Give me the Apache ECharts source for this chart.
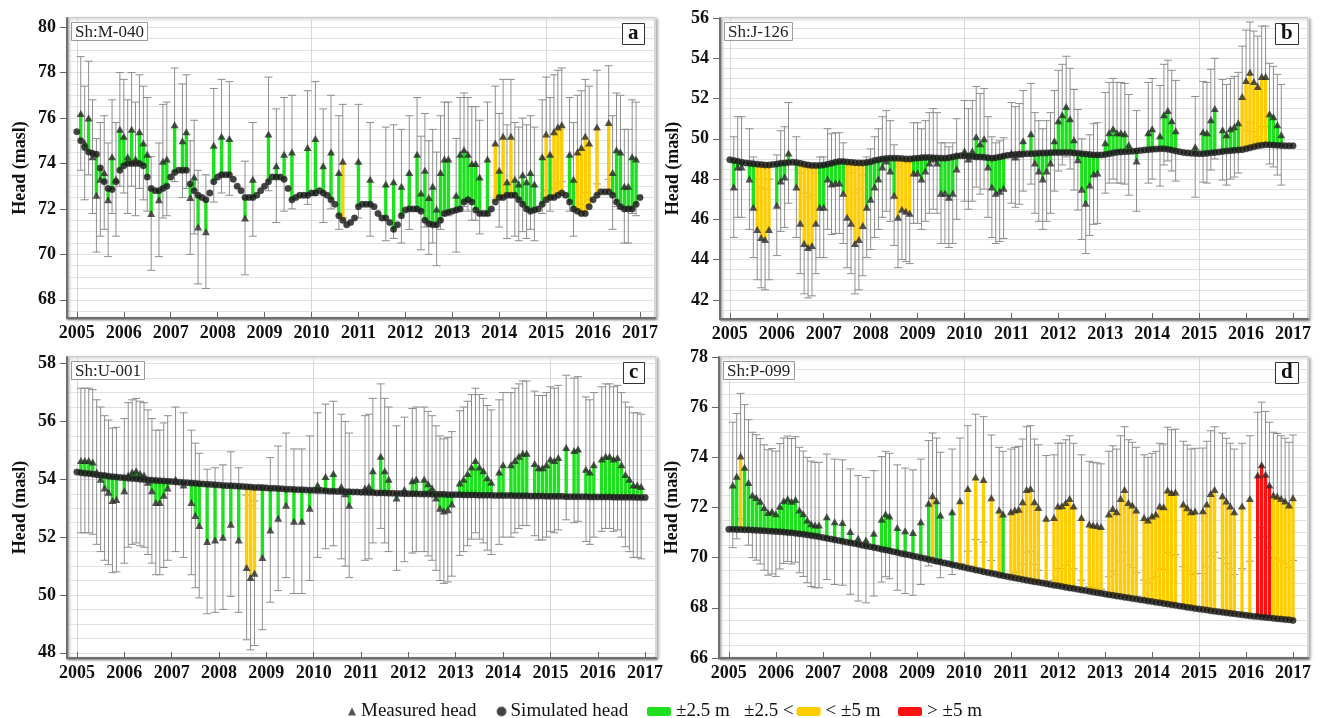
<!DOCTYPE html>
<html>
<head>
<meta charset="utf-8">
<script src="https://cdn.jsdelivr.net/npm/echarts@6/dist/echarts.min.js"></script>
<style>
  html, body { margin: 0; padding: 0; background: #fff; }
  #chart { width: 1319px; height: 718px; }
</style>
</head>
<body>
<div id="chart"></div>
<script>
// tolerance of the calibration target (m), also used for the error bars
var tolerance = 2.5;

var wellNames = ["Sh:M-040", "Sh:J-126", "Sh:U-001", "Sh:P-099"];
var panelLetters = ["a", "b", "c", "d"];
var yearTicks = [2005, 2006, 2007, 2008, 2009, 2010, 2011, 2012, 2013, 2014, 2015, 2016, 2017];
var headTicksA = [68, 70, 72, 74, 76, 78, 80];
var headTicksB = [42, 44, 46, 48, 50, 52, 54, 56];
var headTicksC = [48, 50, 52, 54, 56, 58];
var headTicksD = [66, 68, 70, 72, 74, 76, 78];

// simulated head, one value per month from Jan 2005 to Jan 2017
var simA = [
  75.4, 75.0, 74.7, 74.5, 74.45, 74.4, 73.8, 73.2, 72.9, 72.85, 73.2, 73.7,
  73.9, 74.0, 74.0, 74.0, 74.0, 73.9, 73.4, 72.9, 72.8, 72.8, 72.9, 73.0,
  73.4, 73.6, 73.7, 73.7, 73.7, 73.1, 72.8, 72.6, 72.5, 72.4, 72.7, 73.2,
  73.4, 73.5, 73.5, 73.5, 73.3, 73.0, 72.8, 72.5, 72.5, 72.5, 72.6, 72.8,
  73.0, 73.2, 73.4, 73.4, 73.4, 73.3, 72.9, 72.4, 72.5, 72.6, 72.6, 72.6,
  72.7, 72.7, 72.8, 72.7, 72.6, 72.4, 72.2, 71.7, 71.5, 71.3, 71.4, 71.6,
  72.1, 72.2, 72.2, 72.2, 72.1, 71.8, 71.6, 71.6, 71.4, 71.1, 71.3, 71.7,
  71.95, 72.0, 72.0, 72.0, 71.9, 71.5, 71.35, 71.3, 71.3, 71.5, 71.8, 71.85,
  71.9, 71.95, 72.0, 72.3, 72.4, 72.3, 71.95, 71.8, 71.8, 71.8, 72.0, 72.3,
  72.5, 72.5, 72.6, 72.6, 72.6, 72.4, 72.2, 72.0, 71.9, 71.95, 72.0, 72.2,
  72.4, 72.5, 72.5, 72.6, 72.7, 72.6, 72.3, 72.0, 71.9, 71.8, 71.8, 72.1,
  72.4, 72.6, 72.75, 72.75, 72.75, 72.6, 72.3, 72.1, 72.0, 72.0, 72.0, 72.2,
  72.5
];
var simB = [
  48.96, 48.92, 48.88, 48.84, 48.8, 48.78, 48.76, 48.74, 48.72, 48.7, 48.7, 48.72,
  48.75, 48.78, 48.8, 48.82, 48.84, 48.82, 48.78, 48.74, 48.7, 48.68, 48.68, 48.68,
  48.7, 48.74, 48.78, 48.84, 48.87, 48.87, 48.85, 48.83, 48.81, 48.8, 48.8, 48.82,
  48.86, 48.92, 48.96, 49.0, 49.02, 49.04, 49.04, 49.03, 49.02, 49.0, 49.0, 49.02,
  49.04, 49.06, 49.07, 49.07, 49.06, 49.05, 49.04, 49.04, 49.06, 49.1, 49.14, 49.16,
  49.16, 49.14, 49.12, 49.1, 49.1, 49.08, 49.06, 49.04, 49.06, 49.1, 49.14, 49.18,
  49.2, 49.22, 49.24, 49.25, 49.26, 49.26, 49.27, 49.28, 49.29, 49.3, 49.31, 49.32,
  49.32, 49.32, 49.32, 49.32, 49.3, 49.28, 49.26, 49.24, 49.22, 49.2, 49.2, 49.2,
  49.22, 49.26, 49.3, 49.33, 49.35, 49.36, 49.37, 49.38, 49.4, 49.42, 49.44, 49.46,
  49.48, 49.49, 49.5, 49.5, 49.48, 49.44, 49.4, 49.36, 49.32, 49.3, 49.28, 49.27,
  49.26, 49.26, 49.28, 49.3, 49.32, 49.34, 49.37, 49.39, 49.41, 49.43, 49.45, 49.46,
  49.5, 49.55, 49.6, 49.65, 49.68, 49.7, 49.7, 49.69, 49.68, 49.67, 49.66, 49.65,
  49.65
];
var simC = [
  54.25, 54.23, 54.21, 54.2, 54.18, 54.16, 54.14, 54.13, 54.11, 54.09, 54.08, 54.06,
  54.05, 54.04, 54.03, 54.02, 54.0, 53.99, 53.98, 53.97, 53.96, 53.95, 53.94, 53.93,
  53.92, 53.91, 53.9, 53.89, 53.88, 53.87, 53.86, 53.85, 53.84, 53.83, 53.82, 53.81,
  53.8, 53.79, 53.78, 53.78, 53.77, 53.76, 53.75, 53.74, 53.73, 53.72, 53.72, 53.71,
  53.7, 53.69, 53.69, 53.68, 53.67, 53.66, 53.66, 53.65, 53.64, 53.64, 53.63, 53.62,
  53.62, 53.61, 53.61, 53.6, 53.59, 53.59, 53.58, 53.58, 53.57, 53.57, 53.56, 53.56,
  53.55, 53.55, 53.54, 53.54, 53.53, 53.53, 53.53, 53.52, 53.52, 53.51, 53.51, 53.5,
  53.5, 53.5, 53.5, 53.49, 53.49, 53.49, 53.48, 53.48, 53.48, 53.48, 53.47, 53.47,
  53.47, 53.47, 53.46, 53.46, 53.46, 53.46, 53.45, 53.45, 53.45, 53.45, 53.44, 53.44,
  53.44, 53.44, 53.44, 53.43, 53.43, 53.43, 53.43, 53.42, 53.42, 53.42, 53.42, 53.41,
  53.41, 53.41, 53.41, 53.41, 53.4, 53.4, 53.4, 53.4, 53.4, 53.4, 53.39, 53.39,
  53.39, 53.39, 53.39, 53.39, 53.38, 53.38, 53.38, 53.38, 53.38, 53.38, 53.37, 53.37,
  53.37
];
var simD = [
  71.13, 71.13, 71.12, 71.12, 71.11, 71.11, 71.1, 71.09, 71.08, 71.07, 71.06, 71.05,
  71.04, 71.03, 71.02, 71.0, 70.99, 70.97, 70.95, 70.93, 70.91, 70.88, 70.86, 70.83,
  70.8, 70.77, 70.74, 70.71, 70.68, 70.65, 70.62, 70.59, 70.56, 70.53, 70.5, 70.47,
  70.44, 70.41, 70.38, 70.34, 70.31, 70.28, 70.24, 70.21, 70.17, 70.14, 70.11, 70.07,
  70.04, 70.0, 69.97, 69.93, 69.9, 69.86, 69.83, 69.79, 69.76, 69.72, 69.69, 69.65,
  69.62, 69.58, 69.55, 69.51, 69.48, 69.44, 69.41, 69.38, 69.35, 69.31, 69.28, 69.25,
  69.22, 69.19, 69.16, 69.13, 69.1, 69.07, 69.04, 69.02, 68.99, 68.96, 68.93, 68.9,
  68.88, 68.85, 68.82, 68.79, 68.77, 68.74, 68.71, 68.69, 68.66, 68.63, 68.6, 68.58,
  68.55, 68.52, 68.5, 68.47, 68.45, 68.42, 68.4, 68.37, 68.35, 68.32, 68.3, 68.27,
  68.25, 68.22, 68.2, 68.17, 68.15, 68.12, 68.1, 68.07, 68.05, 68.02, 68.0, 67.97,
  67.95, 67.93, 67.91, 67.88, 67.86, 67.84, 67.82, 67.8, 67.78, 67.76, 67.74, 67.72,
  67.7, 67.68, 67.66, 67.65, 67.63, 67.61, 67.6, 67.58, 67.56, 67.55, 67.53, 67.52,
  67.5
];

// measured head: [month index since Jan 2005, head (masl)]
var measA = [
  [1, 76.2], [2, 74.9], [3, 76.0], [4, 74.3], [5, 72.6], [6, 73.3], [7, 73.6], [8, 72.4],
  [9, 74.3], [10, 73.3], [11, 75.5], [12, 75.2], [13, 74.3], [14, 75.5], [15, 74.2], [16, 75.4],
  [17, 74.9], [18, 74.4], [19, 71.8], [21, 72.4], [22, 74.1], [23, 74.2], [25, 75.7], [27, 75.0],
  [28, 75.4], [29, 72.5], [30, 73.4], [31, 71.2], [33, 71.0], [35, 74.8], [37, 75.2], [39, 75.1],
  [43, 71.6], [45, 73.3], [49, 75.3], [51, 73.9], [53, 74.4], [55, 74.5], [59, 74.7], [61, 75.1],
  [63, 73.9], [65, 74.5], [67, 73.6], [68, 74.1], [72, 74.1], [75, 73.3], [79, 73.1], [81, 73.2],
  [83, 73.0], [85, 73.6], [87, 74.4], [88, 72.7], [89, 73.7], [90, 72.5], [91, 73.0], [92, 72.0],
  [93, 73.6], [94, 74.2], [95, 74.2], [97, 72.6], [98, 74.4], [99, 74.6], [100, 74.4], [101, 74.0],
  [102, 74.0], [103, 73.4], [105, 74.2], [107, 74.9], [108, 73.7], [109, 75.2], [110, 73.2], [111, 75.2],
  [112, 73.3], [113, 73.1], [114, 73.5], [115, 73.2], [116, 73.6], [117, 73.1], [119, 74.3], [120, 75.3],
  [121, 74.4], [122, 75.4], [123, 75.6], [124, 75.7], [126, 74.4], [127, 73.3], [128, 74.5], [129, 74.7],
  [130, 75.2], [131, 74.9], [133, 75.6], [136, 75.8], [137, 73.6], [138, 74.6], [139, 74.5], [140, 73.0],
  [141, 73.0], [142, 74.3], [143, 74.2]
];
var measB = [
  [1, 47.6], [2, 48.6], [3, 48.6], [5, 48.0], [6, 46.6], [7, 45.5], [8, 45.1], [9, 45.0],
  [10, 45.5], [12, 46.7], [13, 47.9], [14, 48.1], [15, 49.3], [17, 47.6], [18, 45.8], [19, 44.8],
  [20, 44.6], [21, 44.7], [22, 45.8], [23, 46.6], [24, 46.6], [25, 48.0], [26, 47.75], [27, 47.8],
  [28, 47.8], [29, 47.3], [30, 46.1], [31, 45.8], [32, 44.8], [33, 45.0], [34, 45.7], [35, 46.6],
  [36, 47.0], [37, 47.6], [38, 48.0], [39, 48.6], [40, 48.9], [41, 48.4], [42, 47.2], [43, 46.1],
  [44, 46.5], [45, 46.4], [46, 46.3], [47, 48.3], [48, 48.3], [49, 48.0], [50, 48.4], [51, 48.8],
  [52, 49.0], [53, 48.8], [54, 47.3], [55, 47.3], [56, 47.1], [57, 47.3], [58, 48.5], [60, 49.4],
  [61, 49.0], [62, 49.4], [63, 50.1], [64, 49.75], [65, 50.0], [66, 48.6], [67, 47.6], [68, 47.3],
  [69, 47.4], [70, 47.55], [72, 49.3], [73, 49.1], [74, 49.25], [75, 49.9], [77, 50.25], [78, 48.8],
  [79, 48.4], [80, 48.0], [81, 48.4], [82, 48.8], [83, 49.9], [84, 50.9], [85, 51.2], [86, 51.6],
  [87, 51.0], [88, 49.95], [89, 48.96], [90, 47.5], [91, 46.8], [92, 47.7], [93, 48.25], [94, 48.3],
  [96, 49.8], [97, 50.3], [98, 50.5], [99, 50.3], [100, 50.3], [101, 50.25], [102, 49.7], [104, 48.9],
  [107, 50.3], [108, 50.5], [110, 50.15], [111, 51.2], [112, 51.4], [113, 50.9], [114, 50.4], [119, 49.6],
  [121, 50.35], [122, 50.3], [123, 50.95], [124, 51.5], [126, 50.45], [127, 50.2], [128, 50.5], [129, 50.6],
  [130, 50.8], [131, 52.1], [132, 52.9], [133, 53.3], [134, 52.85], [135, 52.6], [136, 53.1], [137, 53.1],
  [138, 51.25], [139, 51.1], [140, 50.7], [141, 50.2]
];
var measC = [
  [1, 54.65], [2, 54.65], [3, 54.65], [4, 54.6], [5, 54.25], [6, 54.0], [7, 53.7], [8, 53.55],
  [9, 53.27], [10, 53.3], [12, 53.6], [13, 54.15], [14, 54.25], [15, 54.3], [16, 54.2], [17, 54.15],
  [18, 53.9], [19, 53.6], [20, 53.2], [21, 53.2], [22, 53.45], [23, 53.7], [25, 54.0], [27, 53.8],
  [29, 53.2], [30, 52.75], [31, 52.4], [33, 51.85], [35, 51.9], [37, 52.0], [39, 52.45], [41, 51.9],
  [43, 50.95], [44, 50.6], [45, 50.75], [47, 51.3], [49, 52.25], [51, 52.65], [53, 53.1], [55, 52.55],
  [57, 52.55], [59, 53.0], [61, 53.8], [63, 54.1], [65, 54.2], [67, 53.75], [68, 53.5], [69, 53.1],
  [73, 53.7], [74, 53.75], [75, 54.3], [77, 54.8], [78, 54.3], [79, 54.0], [81, 53.35], [83, 53.65],
  [85, 53.95], [86, 54.0], [88, 54.0], [89, 53.85], [90, 53.7], [91, 53.35], [92, 53.0], [93, 52.9],
  [94, 52.95], [95, 53.15], [97, 53.87], [98, 54.0], [99, 54.2], [100, 54.43], [101, 54.65], [102, 54.43],
  [103, 54.3], [104, 54.05], [105, 53.9], [107, 54.25], [108, 54.5], [110, 54.5], [111, 54.65], [112, 54.8],
  [113, 54.9], [114, 54.9], [116, 54.55], [117, 54.4], [118, 54.4], [119, 54.5], [120, 54.7], [121, 54.65],
  [122, 54.75], [124, 55.1], [126, 55.0], [127, 55.05], [129, 54.35], [130, 54.25], [131, 54.5], [133, 54.7],
  [134, 54.8], [135, 54.8], [136, 54.7], [137, 54.75], [138, 54.5], [139, 54.17], [140, 54.0], [141, 53.8],
  [142, 53.8], [143, 53.75]
];
var measD = [
  [1, 72.9], [2, 73.25], [3, 74.05], [4, 73.6], [5, 73.0], [6, 72.5], [7, 72.4], [8, 72.25],
  [9, 72.0], [10, 71.8], [11, 71.85], [12, 71.75], [13, 72.05], [14, 72.27], [15, 72.35], [16, 72.25],
  [17, 72.32], [18, 71.9], [19, 71.75], [20, 71.5], [21, 71.35], [22, 71.3], [23, 71.3], [25, 71.63],
  [27, 71.43], [29, 71.4], [31, 71.04], [33, 70.77], [35, 70.7], [37, 70.97], [39, 71.53], [40, 71.74],
  [41, 71.66], [43, 71.2], [45, 71.07], [47, 71.0], [49, 71.43], [51, 72.17], [52, 72.47], [53, 72.27],
  [54, 71.7], [57, 71.83], [59, 72.27], [61, 72.76], [63, 73.22], [65, 73.12], [67, 72.39], [69, 71.9],
  [70, 71.74], [72, 71.83], [73, 71.9], [74, 71.93], [75, 72.23], [76, 72.72], [77, 72.76], [78, 72.23],
  [79, 72.0], [81, 71.57], [83, 71.6], [84, 72.06], [85, 72.07], [86, 72.2], [87, 72.36], [88, 72.06],
  [90, 71.6], [92, 71.34], [93, 71.3], [94, 71.28], [95, 71.24], [97, 71.74], [98, 71.96], [99, 71.83],
  [100, 72.36], [101, 72.72], [102, 72.2], [103, 72.1], [104, 71.9], [106, 71.6], [107, 71.5], [108, 71.66],
  [109, 71.74], [110, 72.06], [111, 72.03], [112, 72.7], [113, 72.6], [114, 72.62], [116, 72.14], [117, 71.99],
  [118, 71.83], [119, 71.86], [121, 71.87], [122, 72.14], [123, 72.56], [124, 72.72], [126, 72.47], [127, 72.26],
  [128, 72.06], [129, 71.83], [131, 72.06], [133, 72.36], [135, 73.3], [136, 73.7], [137, 73.33], [138, 72.9],
  [139, 72.5], [140, 72.45], [141, 72.36], [142, 72.26], [143, 72.1], [144, 72.39]
];

var sims = [simA, simB, simC, simD];
var meas = [measA, measB, measC, measD];
var headTicks = [headTicksA, headTicksB, headTicksC, headTicksD];

// layout of the four panels
var panels = [
  { left: 67, top: 18, width: 588, height: 300, yMin: 67.2, yMax: 80.4, xMax: 2017.32 },
  { left: 720, top: 18, width: 588, height: 301, yMin: 41.05, yMax: 56.0, xMax: 2017.32 },
  { left: 67, top: 357, width: 589, height: 301, yMin: 47.82, yMax: 58.23, xMax: 2017.23 },
  { left: 719, top: 357, width: 589, height: 301, yMin: 66, yMax: 78, xMax: 2017.32 }
];
var xMin = 2004.79;

var SERIF = "Liberation Serif";
var GREEN = "#1fe01f", YELLOW = "#ffcc00", RED = "#ff1010";

function monthToYear(m) {
  return 2005 + m / 12;
}

function renderErrorBar(params, api) {
  var top = api.coord([api.value(0), api.value(2)]);
  var bot = api.coord([api.value(0), api.value(1)]);
  var cap = 4;
  var st = { stroke: "#8e8e8e", lineWidth: 1 };
  return {
    type: "group",
    children: [
      { type: "line", shape: { x1: top[0], y1: top[1], x2: bot[0], y2: bot[1] }, style: st },
      { type: "line", shape: { x1: top[0] - cap, y1: top[1], x2: top[0] + cap, y2: top[1] }, style: st },
      { type: "line", shape: { x1: bot[0] - cap, y1: bot[1], x2: bot[0] + cap, y2: bot[1] }, style: st }
    ]
  };
}

function renderDiffBar(params, api) {
  var a = api.coord([api.value(0), api.value(1)]);
  var b = api.coord([api.value(0), api.value(2)]);
  var w = 3.4;
  return {
    type: "rect",
    shape: { x: a[0] - w / 2, y: Math.min(a[1], b[1]), width: w, height: Math.abs(a[1] - b[1]) },
    style: { fill: api.visual("color") }
  };
}

var grids = [], xAxes = [], yAxes = [], series = [], titles = [];

panels.forEach(function (p, i) {
  grids.push({
    left: p.left, top: p.top, width: p.width, height: p.height,
    show: true, backgroundColor: "#fff", borderColor: "#b5b5b5", borderWidth: 1,
    shadowColor: "rgba(0,0,0,0.35)", shadowBlur: 3, shadowOffsetX: 2, shadowOffsetY: 1
  });

  var axisLineStyle = {
    color: "#707070", width: 2,
    shadowColor: "rgba(0,0,0,0.35)", shadowBlur: 2, shadowOffsetX: 1, shadowOffsetY: 1
  };

  // main axes (labels and ticks)
  xAxes.push({
    type: "value", gridIndex: i, min: xMin, max: p.xMax,
    axisLine: { show: true, onZero: false, lineStyle: axisLineStyle },
    axisTick: { show: true, inside: true, length: 6, customValues: yearTicks, lineStyle: { color: "#666" } },
    axisLabel: {
      customValues: yearTicks, margin: 6,
      formatter: function (v) { return String(Math.round(v)); },
      fontFamily: SERIF, fontWeight: "bold", fontSize: 18, color: "#111"
    },
    splitLine: { show: false }
  });
  yAxes.push({
    type: "value", gridIndex: i, min: p.yMin, max: p.yMax,
    name: "Head (masl)", nameLocation: "middle", nameGap: 38,
    nameTextStyle: { fontFamily: SERIF, fontWeight: "bold", fontSize: 18, color: "#111" },
    axisLine: { show: true, onZero: false, lineStyle: axisLineStyle },
    axisTick: { show: true, length: 7, customValues: headTicks[i], lineStyle: { color: "#666" } },
    axisLabel: {
      customValues: headTicks[i], margin: 11,
      formatter: function (v) { return String(Math.round(v)); },
      fontFamily: SERIF, fontWeight: "bold", fontSize: 18, color: "#111"
    },
    splitLine: { show: false }
  });
});

// helper axes carrying only the grid lines
panels.forEach(function (p, i) {
  xAxes.push({
    type: "value", gridIndex: i, min: xMin, max: p.xMax, splitNumber: 3,
    axisLine: { show: false }, axisTick: { show: false }, axisLabel: { show: false },
    splitLine: { show: true, lineStyle: { color: "#d8d8d8", width: 1 } }
  });
  yAxes.push({
    type: "value", gridIndex: i, min: p.yMin, max: p.yMax,
    splitNumber: Math.round((p.yMax - p.yMin) / 0.5),
    axisLine: { show: false }, axisTick: { show: false }, axisLabel: { show: false },
    splitLine: { show: true, lineStyle: { color: "#e1e1e1", width: 1 } }
  });
});

panels.forEach(function (p, i) {
  var sim = sims[i];
  var simData = sim.map(function (v, m) { return [monthToYear(m), v]; });
  var measData = meas[i].map(function (d) { return [monthToYear(d[0]), d[1]]; });
  var errData = meas[i].map(function (d) { return [monthToYear(d[0]), d[1] - tolerance, d[1] + tolerance]; });
  var green = [], yellow = [], red = [];
  meas[i].forEach(function (d) {
    var s = sim[d[0]];
    var diff = Math.abs(d[1] - s);
    var row = [monthToYear(d[0]), s, d[1]];
    if (diff <= tolerance) green.push(row);
    else if (diff <= 2 * tolerance) yellow.push(row);
    else red.push(row);
  });

  var common = { xAxisIndex: i, yAxisIndex: i, animation: false };

  series.push(Object.assign({
    name: "error", type: "custom", renderItem: renderErrorBar, data: errData,
    encode: { x: 0, y: [1, 2] }, z: 2, silent: true
  }, common));
  [["±2.5 m", GREEN, green], ["< ±5 m", YELLOW, yellow], ["> ±5 m", RED, red]].forEach(function (b) {
    series.push(Object.assign({
      name: b[0], type: "custom", renderItem: renderDiffBar, data: b[2],
      encode: { x: 0, y: [1, 2] }, itemStyle: { color: b[1] }, z: 3, silent: true
    }, common));
  });
  series.push(Object.assign({
    name: "Simulated head", type: "scatter", data: simData, symbol: "circle", symbolSize: 6.5,
    itemStyle: { color: "#141414", borderColor: "#444", borderWidth: 0.5 }, z: 4, silent: true
  }, common));
  series.push(Object.assign({
    name: "Measured head", type: "scatter", data: measData, symbol: "triangle", symbolSize: [8, 7],
    itemStyle: { color: "#2a2a2a" }, z: 5, silent: true
  }, common));

  titles.push({
    text: wellNames[i], left: p.left + 4, top: p.top + 4,
    padding: [2, 4, 0, 4], borderColor: "#9a9a9a", borderWidth: 1, backgroundColor: "#fff",
    textStyle: { fontFamily: SERIF, fontWeight: "normal", fontSize: 17, color: "#222" }
  });
  titles.push({
    text: panelLetters[i], left: p.left + p.width - 33, top: p.top + 5,
    padding: [0, 6, 1, 6], borderColor: "#333", borderWidth: 1, backgroundColor: "#fff",
    textStyle: { fontFamily: SERIF, fontWeight: "bold", fontSize: 21, color: "#111" }
  });
});

var legendText = { fontFamily: SERIF, fontSize: 19, color: "#111" };

var option = {
  backgroundColor: "#fff",
  animation: false,
  title: titles,
  grid: grids,
  xAxis: xAxes,
  yAxis: yAxes,
  legend: [
    {
      left: 343, top: 697, itemWidth: 8, itemHeight: 8, itemGap: 20,
      data: [{ name: "Measured head", icon: "triangle" }, { name: "Simulated head", icon: "circle" }],
      textStyle: legendText
    },
    {
      left: 642, top: 697, itemWidth: 24, itemHeight: 9, itemGap: 3, icon: "roundRect",
      data: ["±2.5 m", "< ±5 m"],
      formatter: function (name) { return name === "±2.5 m" ? "±2.5 m   ±2.5 <" : name; },
      textStyle: legendText
    },
    {
      left: 893, top: 697, itemWidth: 24, itemHeight: 9, icon: "roundRect",
      data: ["> ±5 m"],
      textStyle: legendText
    }
  ],
  series: series
};

var myChart = echarts.init(document.getElementById("chart"), null, { renderer: "canvas" });
myChart.setOption(option);
</script>
</body>
</html>
